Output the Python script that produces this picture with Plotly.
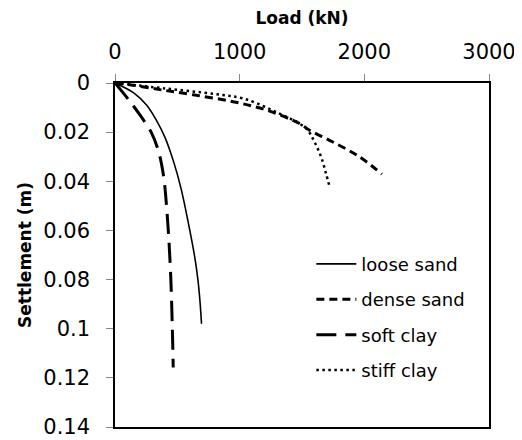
import plotly.graph_objects as go

# Loose sand (solid)
loose_load = [0, 150, 253, 330, 400, 470, 530, 600, 640, 665, 682, 694]
loose_settle = [0, 0.004, 0.009, 0.015, 0.022, 0.032, 0.043, 0.060, 0.071, 0.080, 0.089, 0.098]

# Dense sand (dash)
dense_load = [0, 120, 360, 627, 947, 1213, 1480, 1560, 1747, 1960, 2141]
dense_settle = [0, 0.0007, 0.0027, 0.0048, 0.0076, 0.011, 0.0165, 0.0192, 0.024, 0.030, 0.0371]

# Soft clay (long dash)
soft_load = [0, 120, 200, 290, 350, 390, 410, 430, 448, 460, 467]
soft_settle = [0, 0.0075, 0.013, 0.020, 0.028, 0.038, 0.048, 0.062, 0.080, 0.100, 0.1158]

# Stiff clay (dot)
stiff_load = [0, 400, 800, 1027, 1293, 1533, 1600, 1653, 1693, 1720]
stiff_settle = [0, 0.0022, 0.0045, 0.0063, 0.0118, 0.0185, 0.024, 0.030, 0.0369, 0.042]

x_ticks = [0, 1000, 2000, 3000]
y_ticks = [0, 0.02, 0.04, 0.06, 0.08, 0.1, 0.12, 0.14]
y_tick_labels = ["0", "0.02", "0.04", "0.06", "0.08", "0.1", "0.12", "0.14"]

FONT = "DejaVu Sans"

fig = go.Figure()
series = [
    ("loose sand", loose_load, loose_settle, "solid", 1.6),
    ("dense sand", dense_load, dense_settle, "8px,5px", 3),
    ("soft clay", soft_load, soft_settle, "20px,9px", 3),
    ("stiff clay", stiff_load, stiff_settle, "2.5px,3.5px", 2.5),
]
for name, xs, ys, dash, w in series:
    fig.add_trace(go.Scatter(
        x=xs, y=ys, mode="lines", name=name, legendgroup=name,
        line=dict(color="black", dash=dash, width=w, shape="spline"),
    ))

# The page body adds an 8px offset, so the figure is sized 514x432.
fig.update_layout(
    width=514, height=432,
    margin=dict(l=107, r=33, t=75, b=13),
    paper_bgcolor="white", plot_bgcolor="white",
    font=dict(family=FONT, color="black", size=17),
    showlegend=True,
    legend=dict(x=0.525, y=0.527, xanchor="left", yanchor="top",
                font=dict(size=18, family=FONT), tracegroupgap=9,
                bgcolor="rgba(0,0,0,0)", itemwidth=40),
    xaxis=dict(
        side="top", range=[0, 3000], tickvals=x_ticks,
        showgrid=False, zeroline=False, automargin=False,
        showline=True, linecolor="black", linewidth=1.5, mirror=True,
        ticks="outside", ticklen=7, tickcolor="#888888",
        tickfont=dict(size=21, family=FONT), ticklabelstandoff=7,
        title=dict(text="<b>Load (kN)</b>", font=dict(size=17, family=FONT), standoff=14),
    ),
    yaxis=dict(
        range=[0.14, 0], tickvals=y_ticks, ticktext=y_tick_labels,
        showgrid=False, zeroline=False, automargin=False,
        showline=True, linecolor="black", linewidth=1.5, mirror=True,
        ticks="outside", ticklen=7, tickcolor="#888888",
        tickfont=dict(size=21, family=FONT), ticklabelstandoff=12,
        title=dict(text="<b>Settlement (m)</b>", font=dict(size=17, family=FONT), standoff=7),
    ),
)

fig.write_html("out.html")
